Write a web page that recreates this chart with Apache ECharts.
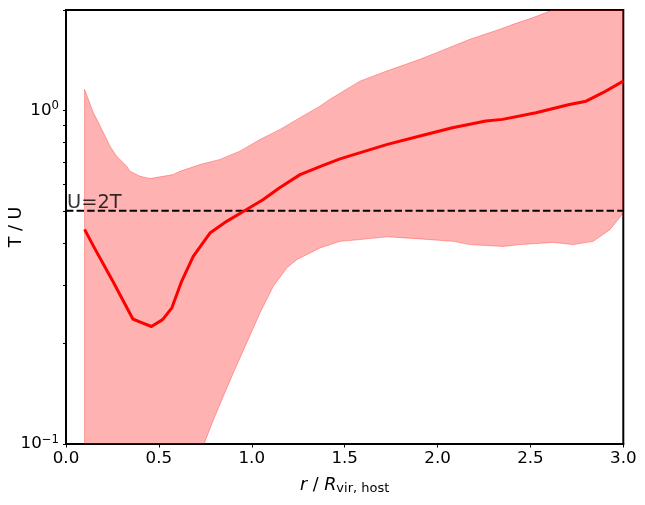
<!DOCTYPE html>
<html>
<head>
<meta charset="utf-8">
<script src="https://cdn.jsdelivr.net/npm/echarts@6/dist/echarts.min.js"></script>
<style>
html,body{margin:0;padding:0;background:#fff;}
#chart{width:645px;height:505px;}
</style>
</head>
<body>
<div id="chart"></div>
<script>
// Median T/U profile
var medianX = [0.10,0.15,0.20,0.25,0.30,0.36,0.40,0.46,0.52,0.57,0.62,0.685,0.775,0.865,0.97,1.06,1.15,1.26,1.37,1.475,1.58,1.73,1.90,2.08,2.26,2.35,2.53,2.71,2.80,2.89,3.00];
var medianY = [0.44,0.39,0.347,0.309,0.274,0.237,0.232,0.225,0.236,0.256,0.305,0.365,0.429,0.465,0.504,0.54,0.586,0.642,0.68,0.716,0.746,0.791,0.837,0.887,0.929,0.94,0.984,1.042,1.066,1.13,1.224];
// Upper edge of the scatter band
var upperX = [0.10,0.147,0.183,0.237,0.273,0.327,0.344,0.398,0.452,0.577,0.614,0.721,0.829,0.936,1.044,1.152,1.259,1.367,1.421,1.582,1.726,1.905,1.995,2.174,2.336,2.407,2.515,2.605,2.70,2.80,2.90,3.00];
var upperY = [1.156,0.985,0.90,0.781,0.729,0.680,0.657,0.635,0.625,0.642,0.657,0.688,0.713,0.755,0.818,0.877,0.951,1.03,1.08,1.224,1.312,1.423,1.49,1.634,1.751,1.812,1.898,1.987,2.1,2.22,2.35,2.5];
// Lower edge of the scatter band
var lowerX = [0.10,0.30,0.50,0.65,0.743,0.793,0.847,0.90,0.973,1.044,1.116,1.152,1.188,1.242,1.367,1.475,1.582,1.726,1.905,2.085,2.174,2.353,2.443,2.623,2.73,2.838,2.928,3.00];
var lowerY = [0.02,0.035,0.055,0.077,0.10,0.118,0.139,0.163,0.201,0.247,0.297,0.316,0.337,0.357,0.387,0.405,0.41,0.418,0.412,0.405,0.396,0.391,0.396,0.402,0.396,0.405,0.439,0.493];
// Reference line U = 2T
var refLineX = [0, 3];
var refLineY = 0.5;
var refLabel = 'U=2T';
// Axis ticks
var xTicks = [0, 0.5, 1.0, 1.5, 2.0, 2.5, 3.0];
var yMajorExp = [-1, 0];
var yMin = 0.1, yMax = 2.0;

var FONT = 'DejaVu Sans';
var chart = echarts.init(document.getElementById('chart'), null, {renderer: 'canvas'});

var minorTickVals = [];
for (var e = -1; e <= 0; e++) {
  for (var k = 1; k <= 9; k++) {
    var v = k * Math.pow(10, e);
    if (v >= yMin - 1e-9 && v <= yMax + 1e-9) minorTickVals.push(Math.log10(v));
  }
}
minorTickVals.push(Math.log10(2));

function expLabel(v) {
  var ex = Math.round(v);
  var s = String(ex).replace('-', '\u2212');
  return '{b|10}{s|' + s + '}';
}

var option = {
  animation: false,
  backgroundColor: '#ffffff',
  grid: {left: 66, right: 21.7, top: 10, bottom: 61, containLabel: false, outerBoundsMode: 'none',
         show: true, borderColor: '#000', borderWidth: 2, backgroundColor: 'transparent'},
  xAxis: {
    type: 'value', min: 0, max: 3, interval: 0.5,
    axisLine: {show: true, onZero: false, lineStyle: {color: '#000', width: 2}},
    axisTick: {show: true, length: 3.5, lineStyle: {color: '#000', width: 1}},
    splitLine: {show: false},
    axisLabel: {margin: 6, color: '#000', fontFamily: FONT, fontSize: 16.7, formatter: function (v) { return v.toFixed(1); }},
    name: '{i|r} / {i|R}{sub|vir, host}',
    nameLocation: 'middle', nameGap: 31, nameMoveOverlap: false,
    nameTextStyle: {
      color: '#000', fontFamily: FONT, fontSize: 17.5,
      rich: {
        i: {fontFamily: FONT, fontStyle: 'italic', fontSize: 17.5, color: '#000'},
        sub: {fontFamily: FONT, fontSize: 13, color: '#000', padding: [7, 0, 0, 0]}
      }
    }
  },
  yAxis: [
    {
      type: 'log', logBase: 10, min: yMin, max: yMax,
      show: false
    },
    {
      type: 'value', min: -1, max: Math.log10(yMax),
      position: 'left',
      axisLine: {show: true, onZero: false, lineStyle: {color: '#000', width: 2}},
      axisTick: {show: true, length: 3, lineStyle: {color: '#000', width: 1}, customValues: minorTickVals},
      splitLine: {show: false},
      axisLabel: {
        margin: 7, color: '#000', fontFamily: FONT, fontSize: 16.7,
        customValues: yMajorExp,
        formatter: expLabel,
        rich: {
          b: {fontFamily: FONT, fontSize: 16.7, color: '#000'},
          s: {fontFamily: FONT, fontSize: 11.7, color: '#000', padding: [0, 0, 9, 0]}
        }
      },
      name: 'T / U', nameLocation: 'middle', nameGap: 41, nameRotate: 90, nameMoveOverlap: false,
      nameTextStyle: {color: '#000', fontFamily: FONT, fontSize: 17.5}
    }
  ],
  series: [
    {
      type: 'custom',
      yAxisIndex: 0,
      clip: true,
      data: [[upperX[0], upperY[0]]],
      renderItem: function (params, api) {
        var pts = [];
        for (var i = 0; i < upperX.length; i++) pts.push(api.coord([upperX[i], upperY[i]]));
        for (var j = lowerX.length - 1; j >= 0; j--) pts.push(api.coord([lowerX[j], lowerY[j]]));
        var cs = params.coordSys;
        return {
          type: 'polygon',
          shape: {points: pts},
          style: {fill: 'rgba(255,0,0,0.3)', stroke: 'rgba(255,0,0,0.3)', lineWidth: 1},
          clipPath: {type: 'rect', shape: {x: cs.x, y: cs.y, width: cs.width, height: cs.height}}
        };
      },
      z: 1
    },
    {
      type: 'line',
      yAxisIndex: 0,
      data: refLineX.map(function (x) { return [x, refLineY]; }),
      showSymbol: false,
      lineStyle: {color: '#000', width: 2, type: [7.4, 3.2]},
      z: 2
    },
    {
      type: 'scatter',
      yAxisIndex: 0,
      data: [[refLineX[0], refLineY]],
      symbolSize: 0,
      label: {
        show: true, formatter: refLabel, position: [1, 2],
        align: 'left', verticalAlign: 'bottom',
        color: '#000', fontFamily: FONT, fontSize: 19.4
      },
      z: 3
    },
    {
      type: 'line',
      yAxisIndex: 0,
      data: medianX.map(function (x, i) { return [x, medianY[i]]; }),
      showSymbol: false,
      lineStyle: {color: '#ff0000', width: 3, join: 'round'},
      z: 4
    }
  ]
};
chart.setOption(option);
</script>
</body>
</html>
